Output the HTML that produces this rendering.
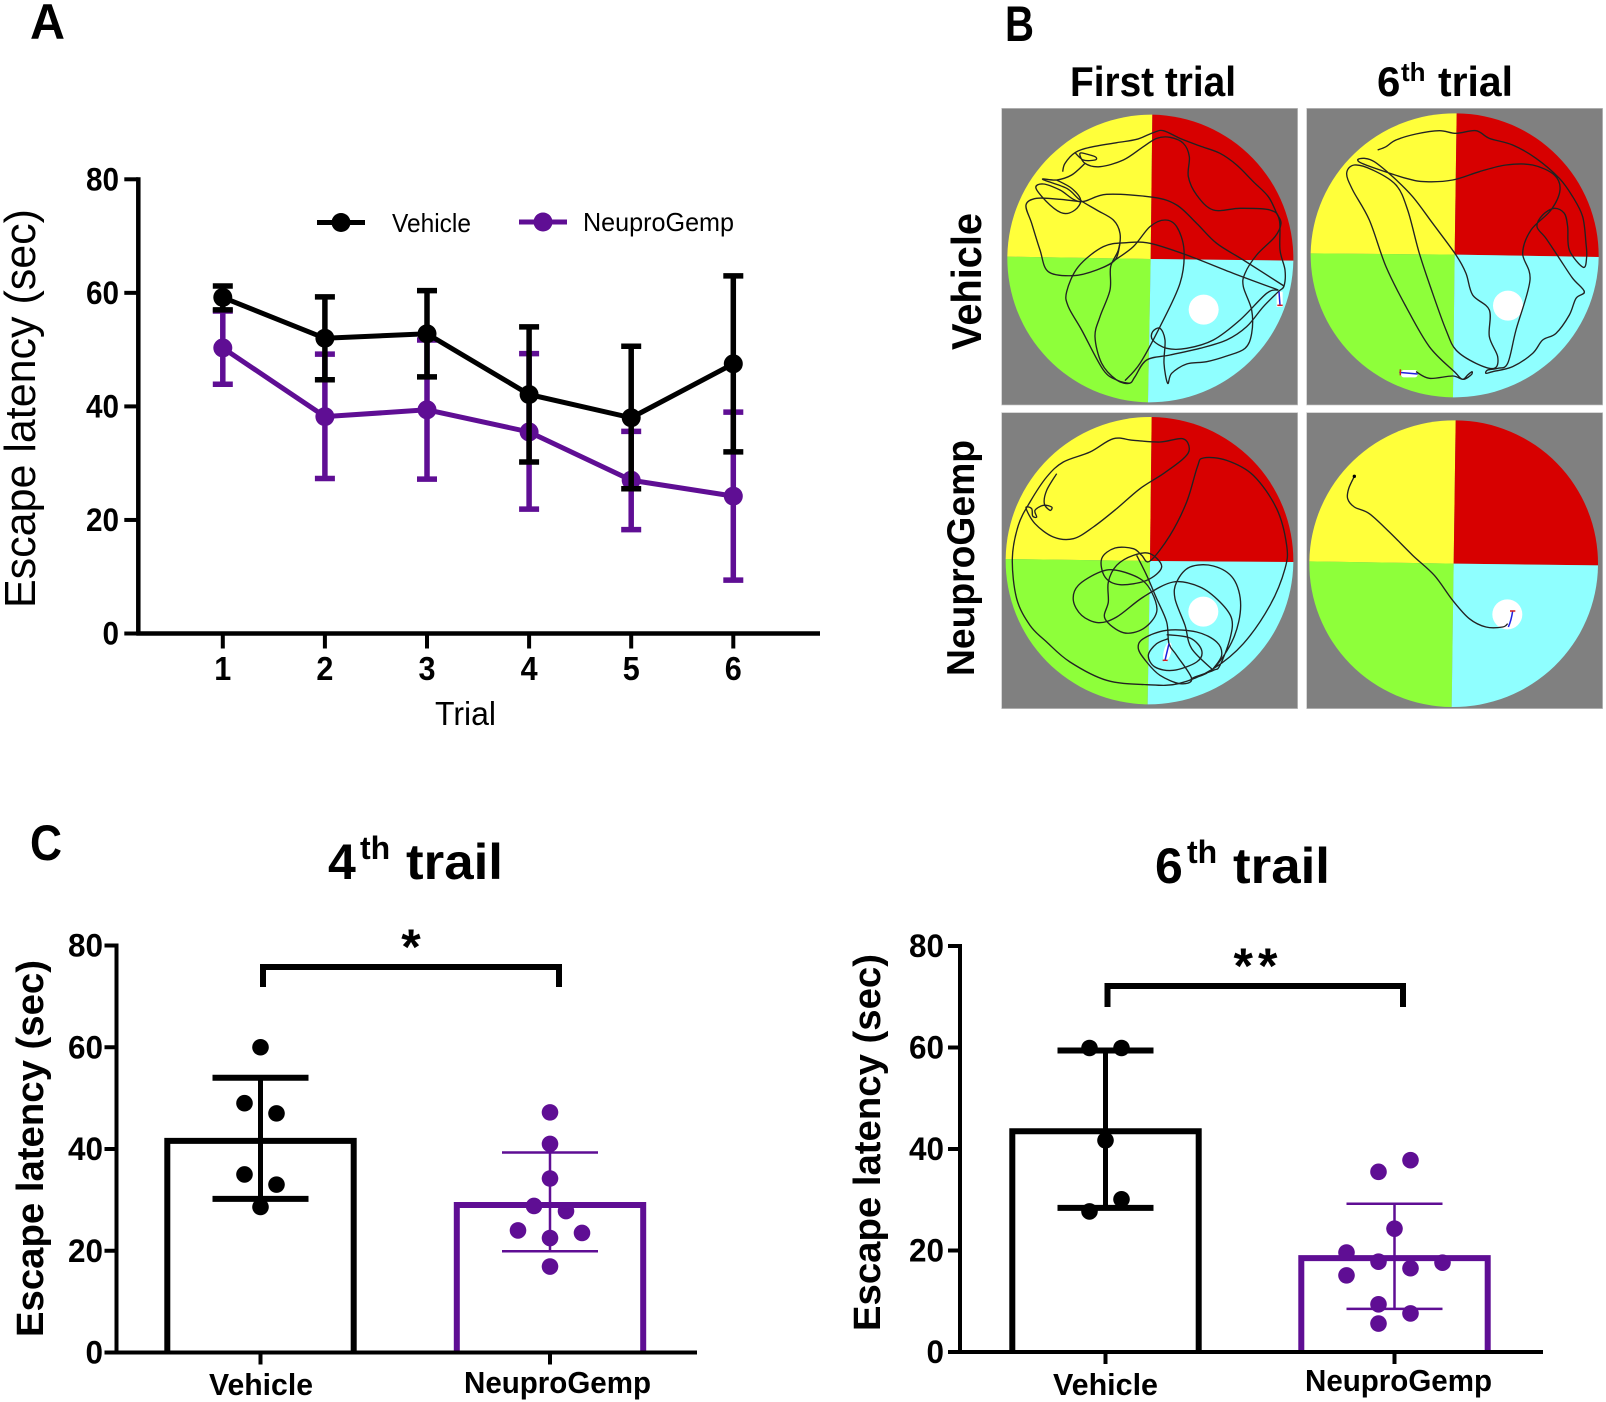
<!DOCTYPE html>
<html lang="en">
<head>
<meta charset="utf-8">
<title>Escape latency figure</title>
<style>
html,body{margin:0;padding:0;background:#fff;}
svg{display:block;font-family:"Liberation Sans",sans-serif;}
.track{fill:none;stroke:#222;stroke-width:1.35;vector-effect:non-scaling-stroke;stroke-linejoin:round;}
.mk{vector-effect:non-scaling-stroke;fill:none;stroke-width:1.5;}
.b{font-weight:700;}
</style>
</head>
<body>
<svg id="fig" xmlns="http://www.w3.org/2000/svg" width="1606" height="1402" viewBox="0 0 1606 1402">
  <text class="b" x="30" y="39" font-size="50" textLength="35" lengthAdjust="spacingAndGlyphs">A</text>
  <text class="b" x="1005" y="41" font-size="50" textLength="29" lengthAdjust="spacingAndGlyphs">B</text>
  <text class="b" x="30" y="860" font-size="50" textLength="32" lengthAdjust="spacingAndGlyphs">C</text>

  <g id="panelA"></g>

  <g>
    <text class="b" x="1070" y="96" font-size="42" textLength="166" lengthAdjust="spacingAndGlyphs">First trial</text>
    <text class="b" font-size="42"><tspan x="1377" y="96">6</tspan><tspan x="1401" y="81" font-size="26">th</tspan><tspan x="1438" y="96" textLength="75" lengthAdjust="spacingAndGlyphs">trial</tspan></text>
    <text class="b" font-size="42" transform="translate(981,350) rotate(-90)" textLength="137" lengthAdjust="spacingAndGlyphs">Vehicle</text>
    <text class="b" font-size="39" transform="translate(974,676) rotate(-90)" textLength="236" lengthAdjust="spacingAndGlyphs">NeuproGemp</text>
  </g>

  <g transform="translate(1000,110) scale(0.33333)">
    <rect x="5" y="-5" width="888" height="890" fill="#808080" stroke="#c4c4c4" stroke-width="2"/>
    <path fill="#ffff3a" d="M452 447L457 14A432 432 0 0 0 22 440Z"/>
    <path fill="#d70000" d="M452 447L457 14A430 432 0 0 1 880 452Z"/>
    <path fill="#8eff3a" d="M452 447L22 440A430 432 0 0 0 444 877Z"/>
    <path fill="#8fffff" d="M452 447L880 452A432 432 0 0 1 444 877Z"/>
    <circle cx="611" cy="599" r="45" fill="#fff"/>
    <rect x="830" y="545" width="18" height="46" fill="#fff"/>
    <path class="track" data-pts="188,185 195,160 225,128 270,112 350,98 410,88 460,68 490,62 540,85 600,108 660,130 710,165 760,215 805,260 830,310 843,340 825,380 770,435 735,490 730,530 755,600 755,670 735,715 680,738 620,755 560,762 515,790 503,820 492,760 495,690 480,655 458,665 458,690 500,715 560,715 640,690 720,630 800,550 835,540"/>
    <path class="track" data-pts="225,128 250,150 285,150 288,142 270,135 240,130 255,160 300,170 370,150 430,110 470,85 510,82 550,100 568,140 565,200 590,255 640,300 720,295 810,300 838,330 840,420 855,480 852,528 835,545 790,590 740,650 680,690 600,715 510,735 440,750 405,800 388,820 350,810 305,760 285,680 300,620 330,540 332,470 355,420 360,370 340,330 290,300 240,270 200,235 128,208 170,210 215,195 255,160"/>
    <path class="track" data-pts="170,210 215,235 242,270 225,300 190,310 150,285 108,235 130,222 180,240 240,275 320,253 460,262 530,285 590,340 650,400 730,450 852,528"/>
    <path class="track" data-pts="240,275 180,268 110,265 78,285 95,340 120,420 145,485 220,497 290,480 345,450 360,400"/>
    <path class="track" data-pts="388,820 355,812 310,780 245,660 205,590 200,545 235,470 310,410 380,398 450,400 560,435 700,490 835,540"/>
    <path class="track" data-pts="375,812 420,760 480,650 540,520 552,420 530,350 495,330 450,350 400,410 345,450"/>
    <path class="mk" stroke="#2020e0" d="M837 545L840 585"/>
    <path class="mk" stroke="#d02020" d="M832 586H848"/>
  </g>

  <g transform="translate(1306,110) scale(0.33333)">
    <rect x="2" y="-5" width="888" height="890" fill="#808080" stroke="#c4c4c4" stroke-width="2"/>
    <path fill="#ffff3a" d="M446 434L452 10A432 428 0 0 0 14 430Z"/>
    <path fill="#d70000" d="M446 434L452 10A430 428 0 0 1 878 441Z"/>
    <path fill="#8eff3a" d="M446 434L14 430A430 428 0 0 0 441 862Z"/>
    <path fill="#8fffff" d="M446 434L878 441A432 428 0 0 1 441 862Z"/>
    <circle cx="606" cy="587" r="45" fill="#fff"/>
    <rect x="285" y="780" width="50" height="22" rx="8" fill="#fff"/>
    <path class="track" data-pts="215,120 240,110 270,90 330,72 400,62 450,70 510,62 550,85 620,105 690,145 760,205 800,260 830,320 840,400 842,440 832,472 790,420 785,350 775,310 745,295 710,315 693,350 720,385 760,445 800,505 835,545 810,565 790,615 750,670 710,690 680,730 620,770 560,785 540,790 545,780 575,775 605,760 630,660 672,510 650,430 675,360 735,300 762,240 745,195 680,165 600,165 520,185 440,210 360,215 300,205 180,165 155,150 175,145 205,155 260,200 320,260 380,340 450,435 480,490 500,555 550,600 550,680 575,740 565,775 510,760 450,720 420,660 380,550 340,430 305,300 270,225 200,180 145,165 122,190 140,240 190,330 240,470 300,590 370,710 445,785 470,808 495,795 498,785 485,795 470,808 440,798 370,805 330,785"/>
    <path class="mk" stroke="#2020e0" d="M280 787L335 792"/>
    <path class="mk" stroke="#d02020" d="M283 778V796"/>
  </g>

  <g transform="translate(1000,412) scale(0.33333)">
    <rect x="5" y="2" width="888" height="888" fill="#808080" stroke="#c4c4c4" stroke-width="2"/>
    <path fill="#ffff3a" d="M450 447L455 15A434 431 0 0 0 17 441Z"/>
    <path fill="#d70000" d="M450 447L455 15A430 431 0 0 1 880 450Z"/>
    <path fill="#8eff3a" d="M450 447L17 441A430 431 0 0 0 443 877Z"/>
    <path fill="#8fffff" d="M450 447L880 450A434 431 0 0 1 443 877Z"/>
    <circle cx="610" cy="599" r="45" fill="#fff"/>
    <ellipse cx="502" cy="720" rx="11" ry="30" transform="rotate(14 502 720)" fill="#fff"/>
    <path class="track" data-pts="170,185 140,235 133,275 150,295 155,285 130,280 105,295 110,315 98,312 95,290 78,288 105,335 160,375 220,380 280,345 350,290 420,230 490,185 550,140 568,110 548,80 480,90 400,85 340,80 270,120 190,150 140,195 90,270 55,340 37,440 50,560 90,640 140,690 210,750 320,805 440,818 535,815 640,770 730,695 810,580 855,470 860,400 830,290 760,190 680,145 610,138 592,165 560,270 510,370 450,447 425,430 400,410 345,408 305,440 315,495 360,518 440,505 485,465 450,425 400,430 350,460 325,510 325,570 315,620 370,662 430,650 470,600 455,540 420,500 350,475 300,480 235,520 220,565 245,610 295,632 350,615 430,555 520,510 600,525 660,570 695,620 690,680 660,760 640,775 585,795 578,800 640,770 700,680 722,580 700,500 640,462 570,465 530,510 525,560 555,640 575,710 640,775"/>
    <path class="track" data-pts="500,668 570,678 605,715 590,750 520,775 465,765 445,730 470,695 505,680"/>
    <path class="track" data-pts="640,770 665,730 650,690 590,660 500,655 430,680 415,710 440,750 480,790 540,815 575,800 530,730 507,695 500,630 470,560 440,490 410,430"/>
    <path class="mk" stroke="#2020e0" d="M507 695L495 745"/>
    <path class="mk" stroke="#d02020" d="M488 745H503"/>
  </g>

  <g transform="translate(1306,412) scale(0.33333)">
    <rect x="2" y="2" width="888" height="888" fill="#808080" stroke="#c4c4c4" stroke-width="2"/>
    <path fill="#ffff3a" d="M443 455L449 25A434 430 0 0 0 10 448Z"/>
    <path fill="#d70000" d="M443 455L449 25A430 430 0 0 1 876 460Z"/>
    <path fill="#8eff3a" d="M443 455L10 448A430 430 0 0 0 437 885Z"/>
    <path fill="#8fffff" d="M443 455L876 460A434 430 0 0 1 437 885Z"/>
    <circle cx="604" cy="607" r="45" fill="#fff"/>
    <path class="track" data-pts="145,193 128,230 125,260 145,285 190,305 250,360 320,430 385,490 440,565 490,620 540,645 590,645 605,635"/>
    <circle cx="145" cy="193" r="5" fill="#000"/>
    <path class="mk" stroke="#2020e0" d="M607 645Q616 625 620 597"/>
    <path class="mk" stroke="#d02020" d="M612 597H628"/>
  </g>

  <g>
    <text class="b" font-size="50"><tspan x="328" y="879">4</tspan><tspan x="360" y="859" font-size="32">th</tspan><tspan x="406" y="879" textLength="97" lengthAdjust="spacingAndGlyphs">trail</tspan></text>
    <text class="b" font-size="50"><tspan x="1155" y="883">6</tspan><tspan x="1187" y="863" font-size="32">th</tspan><tspan x="1233" y="883" textLength="97" lengthAdjust="spacingAndGlyphs">trail</tspan></text>
  </g>

  <g id="chartLeft"></g>
  <g id="chartRight"></g>
</svg>

<script>
/* Panel A data */
const trialLabels = ['1','2','3','4','5','6'];
const lineTickLabels = [0,20,40,60,80];
const vehicleMeans = [59.2,52.0,52.8,42.1,38.0,47.5];
const vehicleUpper = [61.2,59.3,60.4,54.0,50.6,63.0];
const vehicleLower = [57.0,44.7,45.2,30.2,25.5,32.0];
const neuproMeans = [50.3,38.2,39.4,35.5,27.0,24.2];
const neuproUpper = [56.8,49.2,51.7,49.3,35.6,39.0];
const neuproLower = [43.9,27.3,27.2,21.9,18.3,9.4];

/* Panel C data */
const barCategories = ['Vehicle','NeuproGemp'];
const barTickLabels = [0,20,40,60,80];
const trail4Means = [41.6,29.0];
const trail4Upper = [54.0,39.3];
const trail4Lower = [30.2,19.9];
const trail4VehiclePoints = [60,49,47,35,33,28.6];
const trail4VehicleSlots = [0,-1,1,-1,1,0];
const trail4NeuproPoints = [47.2,41,34.2,28.8,27.8,24,23.5,22.5,16.9];
const trail4NeuproSlots = [0,0,0,-1,1,-2,2,0,0];
const trail6Means = [43.5,18.5];
const trail6Upper = [59.4,29.2];
const trail6Lower = [28.4,8.5];
const trail6VehiclePoints = [59.9,59.9,41.7,30.1,27.7];
const trail6VehicleSlots = [-1,1,0,1,-1];
const trail6NeuproPoints = [37.8,35.5,24.3,19.6,17.8,17.6,16.5,15.1,9.4,7.6,5.6];
const trail6NeuproSlots = [1,-1,0,-3,-1,3,1,-3,-1,1,-1];

const PURPLE = '#5f0e94';
const BLACK = '#000';
const NS = 'http://www.w3.org/2000/svg';

function make(tag, attrs, parent, txt){
  const n = document.createElementNS(NS, tag);
  for (const k in attrs) n.setAttribute(k, attrs[k]);
  if (txt !== undefined) n.textContent = txt;
  parent.appendChild(n);
  return n;
}

/* Smooth the swim-path tracks */
document.querySelectorAll('.track').forEach(function(p){
  const pts = p.getAttribute('data-pts').trim().split(/\s+/).map(function(s){return s.split(',').map(Number);});
  let d = 'M' + pts[0][0] + ' ' + pts[0][1];
  for (let i = 0; i < pts.length - 1; i++){
    const a = pts[Math.max(i-1,0)], b = pts[i], c = pts[i+1], e = pts[Math.min(i+2,pts.length-1)];
    d += 'C' + (b[0]+(c[0]-a[0])/6).toFixed(1) + ' ' + (b[1]+(c[1]-a[1])/6).toFixed(1) + ' ' +
         (c[0]-(e[0]-b[0])/6).toFixed(1) + ' ' + (c[1]-(e[1]-b[1])/6).toFixed(1) + ' ' + c[0] + ' ' + c[1];
  }
  p.setAttribute('d', d);
});

/* ---------- Panel A ---------- */
(function(){
  const g = document.getElementById('panelA');
  const xA = function(i){ return 222.8 + i * 102.1; };
  const yA = function(v){ return 633.5 - v * (633.5 - 179.3) / 80; };
  const axisX = 138.3;

  const yAxis = make('line',{x1:axisX,x2:axisX,y1:yA(80)-2,y2:yA(0)+2,stroke:BLACK,'stroke-width':4.5},g);
  
  
  const xAxis = make('line',{x1:axisX-2,x2:820,y1:yA(0),y2:yA(0),stroke:BLACK,'stroke-width':4.5},g);
  
  

  lineTickLabels.forEach(function(t){
    const tick = make('line',{x1:axisX-14,x2:axisX,y1:yA(t),y2:yA(t),stroke:BLACK,'stroke-width':4},g);
    
    
    const lab = make('text',{x:119,y:yA(t)+11,'text-anchor':'end','font-size':32,'font-weight':700,textLength:String(t).length*16.5,lengthAdjust:'spacingAndGlyphs'},g,String(t));
    
    
  });
  trialLabels.forEach(function(t,i){
    const tick = make('line',{x1:xA(i),x2:xA(i),y1:yA(0),y2:yA(0)+15,stroke:BLACK,'stroke-width':4},g);
    
    
    const lab = make('text',{x:xA(i),y:680,'text-anchor':'middle','font-size':33,'font-weight':700,textLength:17,lengthAdjust:'spacingAndGlyphs'},g,t);
    
    
  });

  const yt = make('text',{transform:'translate(35,608) rotate(-90)','font-size':44,textLength:399,lengthAdjust:'spacingAndGlyphs'},g,'Escape latency (sec)');
  
  
  const xt = make('text',{x:435,y:725,'font-size':33,textLength:61,lengthAdjust:'spacingAndGlyphs'},g,'Trial');
  
  

  function series(means, upper, lower, color, key){
    const sg = make('g',{},g);
    
    
    means.forEach(function(m,i){
      const err = make('path',{d:'M'+(xA(i)-10)+' '+yA(upper[i])+'H'+(xA(i)+10)+'M'+xA(i)+' '+yA(upper[i])+'V'+yA(lower[i])+'M'+(xA(i)-10)+' '+yA(lower[i])+'H'+(xA(i)+10),stroke:color,'stroke-width':5.5,fill:'none'},sg);
      
      
    });
    const line = make('polyline',{points:means.map(function(m,i){return xA(i)+','+yA(m);}).join(' '),fill:'none',stroke:color,'stroke-width':5},sg);
    
    
    means.forEach(function(m,i){
      const pt = make('circle',{cx:xA(i),cy:yA(m),r:9.5,fill:color},sg);
      
      
    });
  }
  series(neuproMeans, neuproUpper, neuproLower, PURPLE, 'neuprogemp');
  series(vehicleMeans, vehicleUpper, vehicleLower, BLACK, 'vehicle');

  const lg = make('g',{},g);
  
  
  const l1 = make('line',{x1:317,x2:365,y1:222.5,y2:222.5,stroke:BLACK,'stroke-width':5},lg);
  
  
  const c1 = make('circle',{cx:341,cy:222.5,r:9.5,fill:BLACK},lg);
  
  
  const t1 = make('text',{x:392,y:232,'font-size':26,textLength:79,lengthAdjust:'spacingAndGlyphs'},lg,'Vehicle');
  
  
  const l2 = make('line',{x1:519,x2:567,y1:222,y2:222,stroke:PURPLE,'stroke-width':5},lg);
  
  
  const c2 = make('circle',{cx:543,cy:222,r:9.5,fill:PURPLE},lg);
  
  
  const t2 = make('text',{x:583,y:231,'font-size':26,textLength:151,lengthAdjust:'spacingAndGlyphs'},lg,'NeuproGemp');
  
  
})();

/* ---------- Panel C ---------- */
function drawBarChart(o){
  const g = document.getElementById(o.id);
  const y = function(v){ return o.y0 - v * (o.y0 - o.y80) / 80; };
  const x = function(i){ return o.xFirst + i * o.xStep; };
  const halfBar = 93.2, capHalf = 48, slotW = 16;
  const colors = [BLACK, PURPLE];
  const keys = ['vehicle','neuprogemp'];
  const errW = [5, 2.5];
  const capW = [6, 2.5];

  o.means.forEach(function(m,i){
    const bar = make('path',{d:'M'+(x(i)-halfBar)+' '+y(0)+'V'+y(m)+'H'+(x(i)+halfBar)+'V'+y(0),fill:'none',stroke:colors[i],'stroke-width':6},g);
    
    
    const stem = make('path',{d:'M'+x(i)+' '+y(o.upper[i])+'V'+y(o.lower[i]),fill:'none',stroke:colors[i],'stroke-width':errW[i]},g);
    
    
    const caps = make('path',{d:'M'+(x(i)-capHalf)+' '+y(o.upper[i])+'H'+(x(i)+capHalf)+'M'+(x(i)-capHalf)+' '+y(o.lower[i])+'H'+(x(i)+capHalf),fill:'none',stroke:colors[i],'stroke-width':capW[i]},g);
    
    
  });
  [o.vehiclePoints,o.neuproPoints].forEach(function(arr,i){
    const slots = i === 0 ? o.vehicleSlots : o.neuproSlots;
    arr.forEach(function(v,j){
      const pt = make('circle',{cx:x(i)+slots[j]*slotW,cy:y(v),r:8.3,fill:colors[i]},g);
      
      
    });
  });

  const yAxis = make('line',{x1:o.axisX,x2:o.axisX,y1:y(80)-2,y2:y(0)+2,stroke:BLACK,'stroke-width':4},g);
  
  
  const xAxis = make('line',{x1:o.axisX-2,x2:o.xEnd,y1:y(0),y2:y(0),stroke:BLACK,'stroke-width':4},g);
  
  

  barTickLabels.forEach(function(t){
    const tick = make('line',{x1:o.axisX-12,x2:o.axisX,y1:y(t),y2:y(t),stroke:BLACK,'stroke-width':4},g);
    
    
    const lab = make('text',{x:o.tickEnd,y:y(t)+11,'text-anchor':'end','font-size':32,'font-weight':700,textLength:String(t).length*17.5,lengthAdjust:'spacingAndGlyphs'},g,String(t));
    
    
  });
  barCategories.forEach(function(c,i){
    const tick = make('line',{x1:x(i),x2:x(i),y1:y(0),y2:y(0)+12,stroke:BLACK,'stroke-width':4},g);
    
    
    const lab = make('text',{x:o.labelX[i],y:o.labelY[i],'font-size':31,'font-weight':700,textLength:o.labelW[i],lengthAdjust:'spacingAndGlyphs'},g,c);
    
    
  });

  const yt = make('text',{transform:'translate('+o.titleX+','+o.titleBottom+') rotate(-90)','font-size':38,'font-weight':700,textLength:377,lengthAdjust:'spacingAndGlyphs'},g,'Escape latency (sec)');
  
  

  const br = make('path',{d:'M'+o.brL+' '+o.brBottom+'V'+o.brTop+'H'+o.brR+'V'+o.brBottom,fill:'none',stroke:BLACK,'stroke-width':6},g);
  
  
  const st = make('text',{x:o.starX,y:o.starY,'text-anchor':'middle','font-size':50,'font-weight':700,'letter-spacing':o.starGap},g,o.stars);
  
  
}

drawBarChart({id:'chartLeft',y0:1352.5,y80:945.5,axisX:116.5,tickEnd:103,xEnd:697,xFirst:260.5,xStep:289.5,
  means:trail4Means,upper:trail4Upper,lower:trail4Lower,
  vehiclePoints:trail4VehiclePoints,vehicleSlots:trail4VehicleSlots,neuproPoints:trail4NeuproPoints,neuproSlots:trail4NeuproSlots,
  labelX:[209,464],labelY:[1395,1393],labelW:[104,187],titleX:43,titleBottom:1337,
  brL:263,brR:559,brTop:967,brBottom:987,starX:411,starY:964,stars:'*',starGap:0});

drawBarChart({id:'chartRight',y0:1352,y80:946,axisX:960,tickEnd:944,xEnd:1543,xFirst:1105.5,xStep:289,
  means:trail6Means,upper:trail6Upper,lower:trail6Lower,
  vehiclePoints:trail6VehiclePoints,vehicleSlots:trail6VehicleSlots,neuproPoints:trail6NeuproPoints,neuproSlots:trail6NeuproSlots,
  labelX:[1053,1305],labelY:[1395,1391],labelW:[105,187],titleX:880,titleBottom:1331,
  brL:1107.5,brR:1403,brTop:986,brBottom:1007,starX:1258,starY:983,stars:'**',starGap:5});
</script>
</body>
</html>
